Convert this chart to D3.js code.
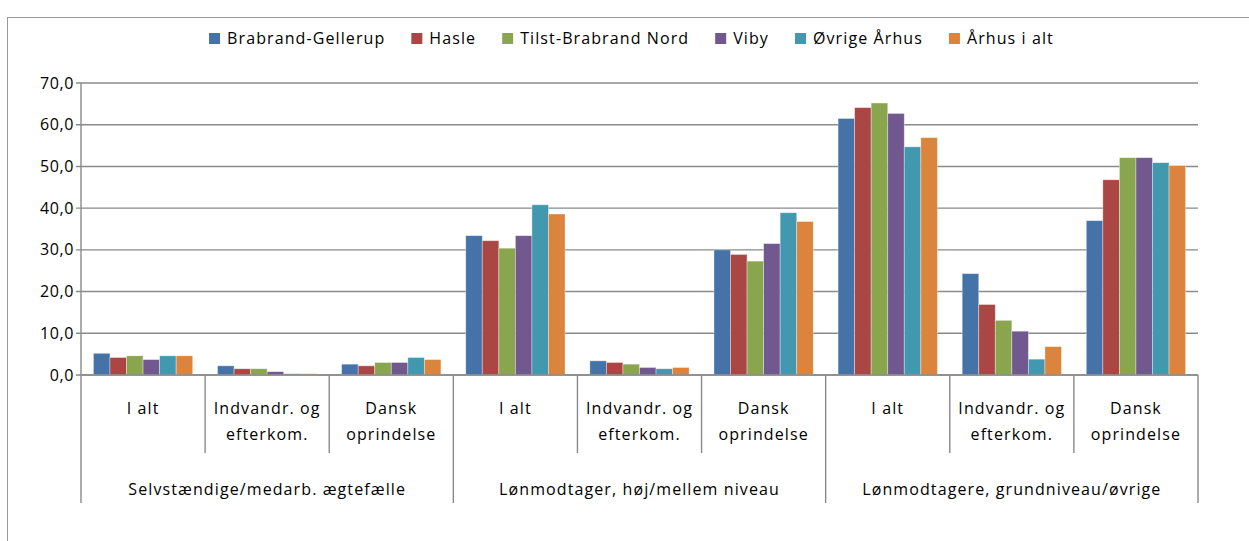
<!DOCTYPE html>
<html>
<head>
<meta charset="utf-8">
<script src="https://cdn.jsdelivr.net/npm/d3@7"></script>
<style>
  body { margin: 0; background: #fff; }
  svg { display: block; font-family: "Open Sans", sans-serif; }
  svg text { letter-spacing: 1.1px; }
  svg text.ytick { letter-spacing: 0.6px; }
</style>
</head>
<body>
<svg width="1249" height="541"></svg>
<script>
// --- data ---
const groups = ["Selvstændige/medarb. ægtefælle", "Lønmodtager, høj/mellem niveau", "Lønmodtagere, grundniveau/øvrige"];
const subLabels = [["I alt"], ["Indvandr. og", "efterkom."], ["Dansk", "oprindelse"]];
const seriesNames = ["Brabrand-Gellerup", "Hasle", "Tilst-Brabrand Nord", "Viby", "Øvrige Århus", "Århus i alt"];
const seriesColors = ["#4572A7", "#AA4643", "#89A54E", "#71588F", "#4198AF", "#DB843D"];

// one value per category (3 groups x 3 sub-categories)
const brabrandGellerup = [5.2, 2.2, 2.6, 33.4, 3.4, 30.0, 61.5, 24.3, 37.0];
const hasle            = [4.2, 1.5, 2.2, 32.2, 3.0, 28.9, 64.1, 16.9, 46.8];
const tilstBrabrand    = [4.6, 1.5, 3.0, 30.4, 2.6, 27.3, 65.2, 13.1, 52.1];
const viby             = [3.7, 0.8, 3.0, 33.4, 1.8, 31.5, 62.7, 10.5, 52.1];
const oevrigeAarhus    = [4.6, 0.3, 4.2, 40.8, 1.5, 38.9, 54.7,  3.8, 50.9];
const aarhusIAlt       = [4.6, 0.3, 3.7, 38.6, 1.8, 36.8, 56.9,  6.8, 50.2];

const yTicks = [0, 10, 20, 30, 40, 50, 60, 70];

const seriesValues = [brabrandGellerup, hasle, tilstBrabrand, viby, oevrigeAarhus, aarhusIAlt];

// --- layout ---
const svg = d3.select("svg");
const plot = { left: 81, right: 1198, top: 83, bottom: 375 };
const axisColor = "#8a8a8a";
const fontSize = 16;

// categories as index keys
const catKeys = d3.range(groups.length * subLabels.length);

const x = d3.scaleBand()
  .domain(catKeys)
  .range([plot.left, plot.right])
  .paddingInner(0.2)
  .paddingOuter(0.1);

const xInner = d3.scaleBand()
  .domain(d3.range(seriesNames.length))
  .range([0, x.bandwidth()]);

const y = d3.scaleLinear()
  .domain([0, 70])
  .range([plot.bottom, plot.top]);

const fmt = d => d3.format(".1f")(d).replace(".", ",");

// outer chart frame (cut off at right/bottom like the source)
svg.append("rect")
  .attr("x", 7.5).attr("y", 17.5)
  .attr("width", 1300).attr("height", 600)
  .attr("fill", "none")
  .attr("stroke", "#9a9a9a")
  .attr("stroke-width", 1);

// gridlines + y tick labels
const grid = svg.append("g");
grid.selectAll("line")
  .data(yTicks)
  .join("line")
  .attr("x1", plot.left - 5)
  .attr("x2", plot.right)
  .attr("y1", d => y(d))
  .attr("y2", d => y(d))
  .attr("stroke", axisColor)
  .attr("stroke-width", 1.4);

grid.selectAll("text")
  .data(yTicks)
  .join("text")
  .attr("class", "ytick")
  .attr("x", plot.left - 7)
  .attr("y", d => y(d) + 5.5)
  .attr("text-anchor", "end")
  .attr("font-size", fontSize)
  .attr("fill", "#000")
  .text(fmt);

// y axis line
svg.append("line")
  .attr("x1", plot.left).attr("x2", plot.left)
  .attr("y1", plot.top).attr("y2", plot.bottom)
  .attr("stroke", axisColor)
  .attr("stroke-width", 1.4);

// bars
const step = x.step();
const rows = [];
seriesValues.forEach(function(vals, s) {
  vals.forEach(function(v, c) { rows.push({ s: s, c: c, v: v }); });
});

svg.append("g")
  .selectAll("rect")
  .data(rows)
  .join("rect")
  .attr("x", d => x(d.c) + xInner(d.s))
  .attr("y", d => y(d.v))
  .attr("width", xInner.bandwidth())
  .attr("height", d => y(0) - y(d.v))
  .attr("fill", d => seriesColors[d.s])
  .attr("stroke", "#ffffff")
  .attr("stroke-opacity", 0.45)
  .attr("stroke-width", 0.8);

// category axis: separators and labels
const bottomAxis = svg.append("g");
bottomAxis.append("line")
  .attr("x1", plot.left).attr("x2", plot.right)
  .attr("y1", plot.bottom).attr("y2", plot.bottom)
  .attr("stroke", axisColor)
  .attr("stroke-width", 1.4);

const boundaries = d3.range(catKeys.length + 1);
bottomAxis.selectAll("line.sep")
  .data(boundaries)
  .join("line")
  .attr("class", "sep")
  .attr("x1", i => plot.left + i * step)
  .attr("x2", i => plot.left + i * step)
  .attr("y1", plot.bottom)
  .attr("y2", i => (i % subLabels.length === 0 ? 503 : 453))
  .attr("stroke", axisColor)
  .attr("stroke-width", 1.4);

const catLabel = bottomAxis.selectAll("text.cat")
  .data(catKeys)
  .join("text")
  .attr("class", "cat")
  .attr("text-anchor", "middle")
  .attr("font-size", fontSize)
  .attr("fill", "#000");

catLabel.each(function(c) {
  const lines = subLabels[c % subLabels.length];
  const t = d3.select(this);
  lines.forEach(function(str, k) {
    t.append("tspan")
      .attr("x", x(c) + x.bandwidth() / 2)
      .attr("y", 414 + k * 26)
      .text(str);
  });
});

bottomAxis.selectAll("text.grp")
  .data(groups)
  .join("text")
  .attr("class", "grp")
  .attr("x", (d, g) => plot.left + (g * subLabels.length + subLabels.length / 2) * step)
  .attr("y", 495)
  .attr("text-anchor", "middle")
  .attr("font-size", fontSize)
  .attr("fill", "#000")
  .text(d => d);

// legend
const legendGap = 26;
const legend = svg.append("g");
const items = legend.selectAll("g")
  .data(seriesNames)
  .join("g");

items.append("rect")
  .attr("width", 11)
  .attr("height", 11)
  .attr("y", 33)
  .attr("fill", (d, i) => seriesColors[i]);

items.append("text")
  .attr("x", 18)
  .attr("y", 44)
  .attr("font-size", fontSize)
  .attr("fill", "#000")
  .text(d => d);

let cursor = 0;
const widths = [];
items.each(function() {
  const w = 18 + d3.select(this).select("text").node().getComputedTextLength();
  widths.push(w);
});
const totalW = d3.sum(widths) + legendGap * (widths.length - 1);
cursor = 631.5 - totalW / 2;
items.attr("transform", function(d, i) {
  const tx = cursor;
  cursor += widths[i] + legendGap;
  return "translate(" + tx + ",0)";
});
</script>
</body>
</html>
